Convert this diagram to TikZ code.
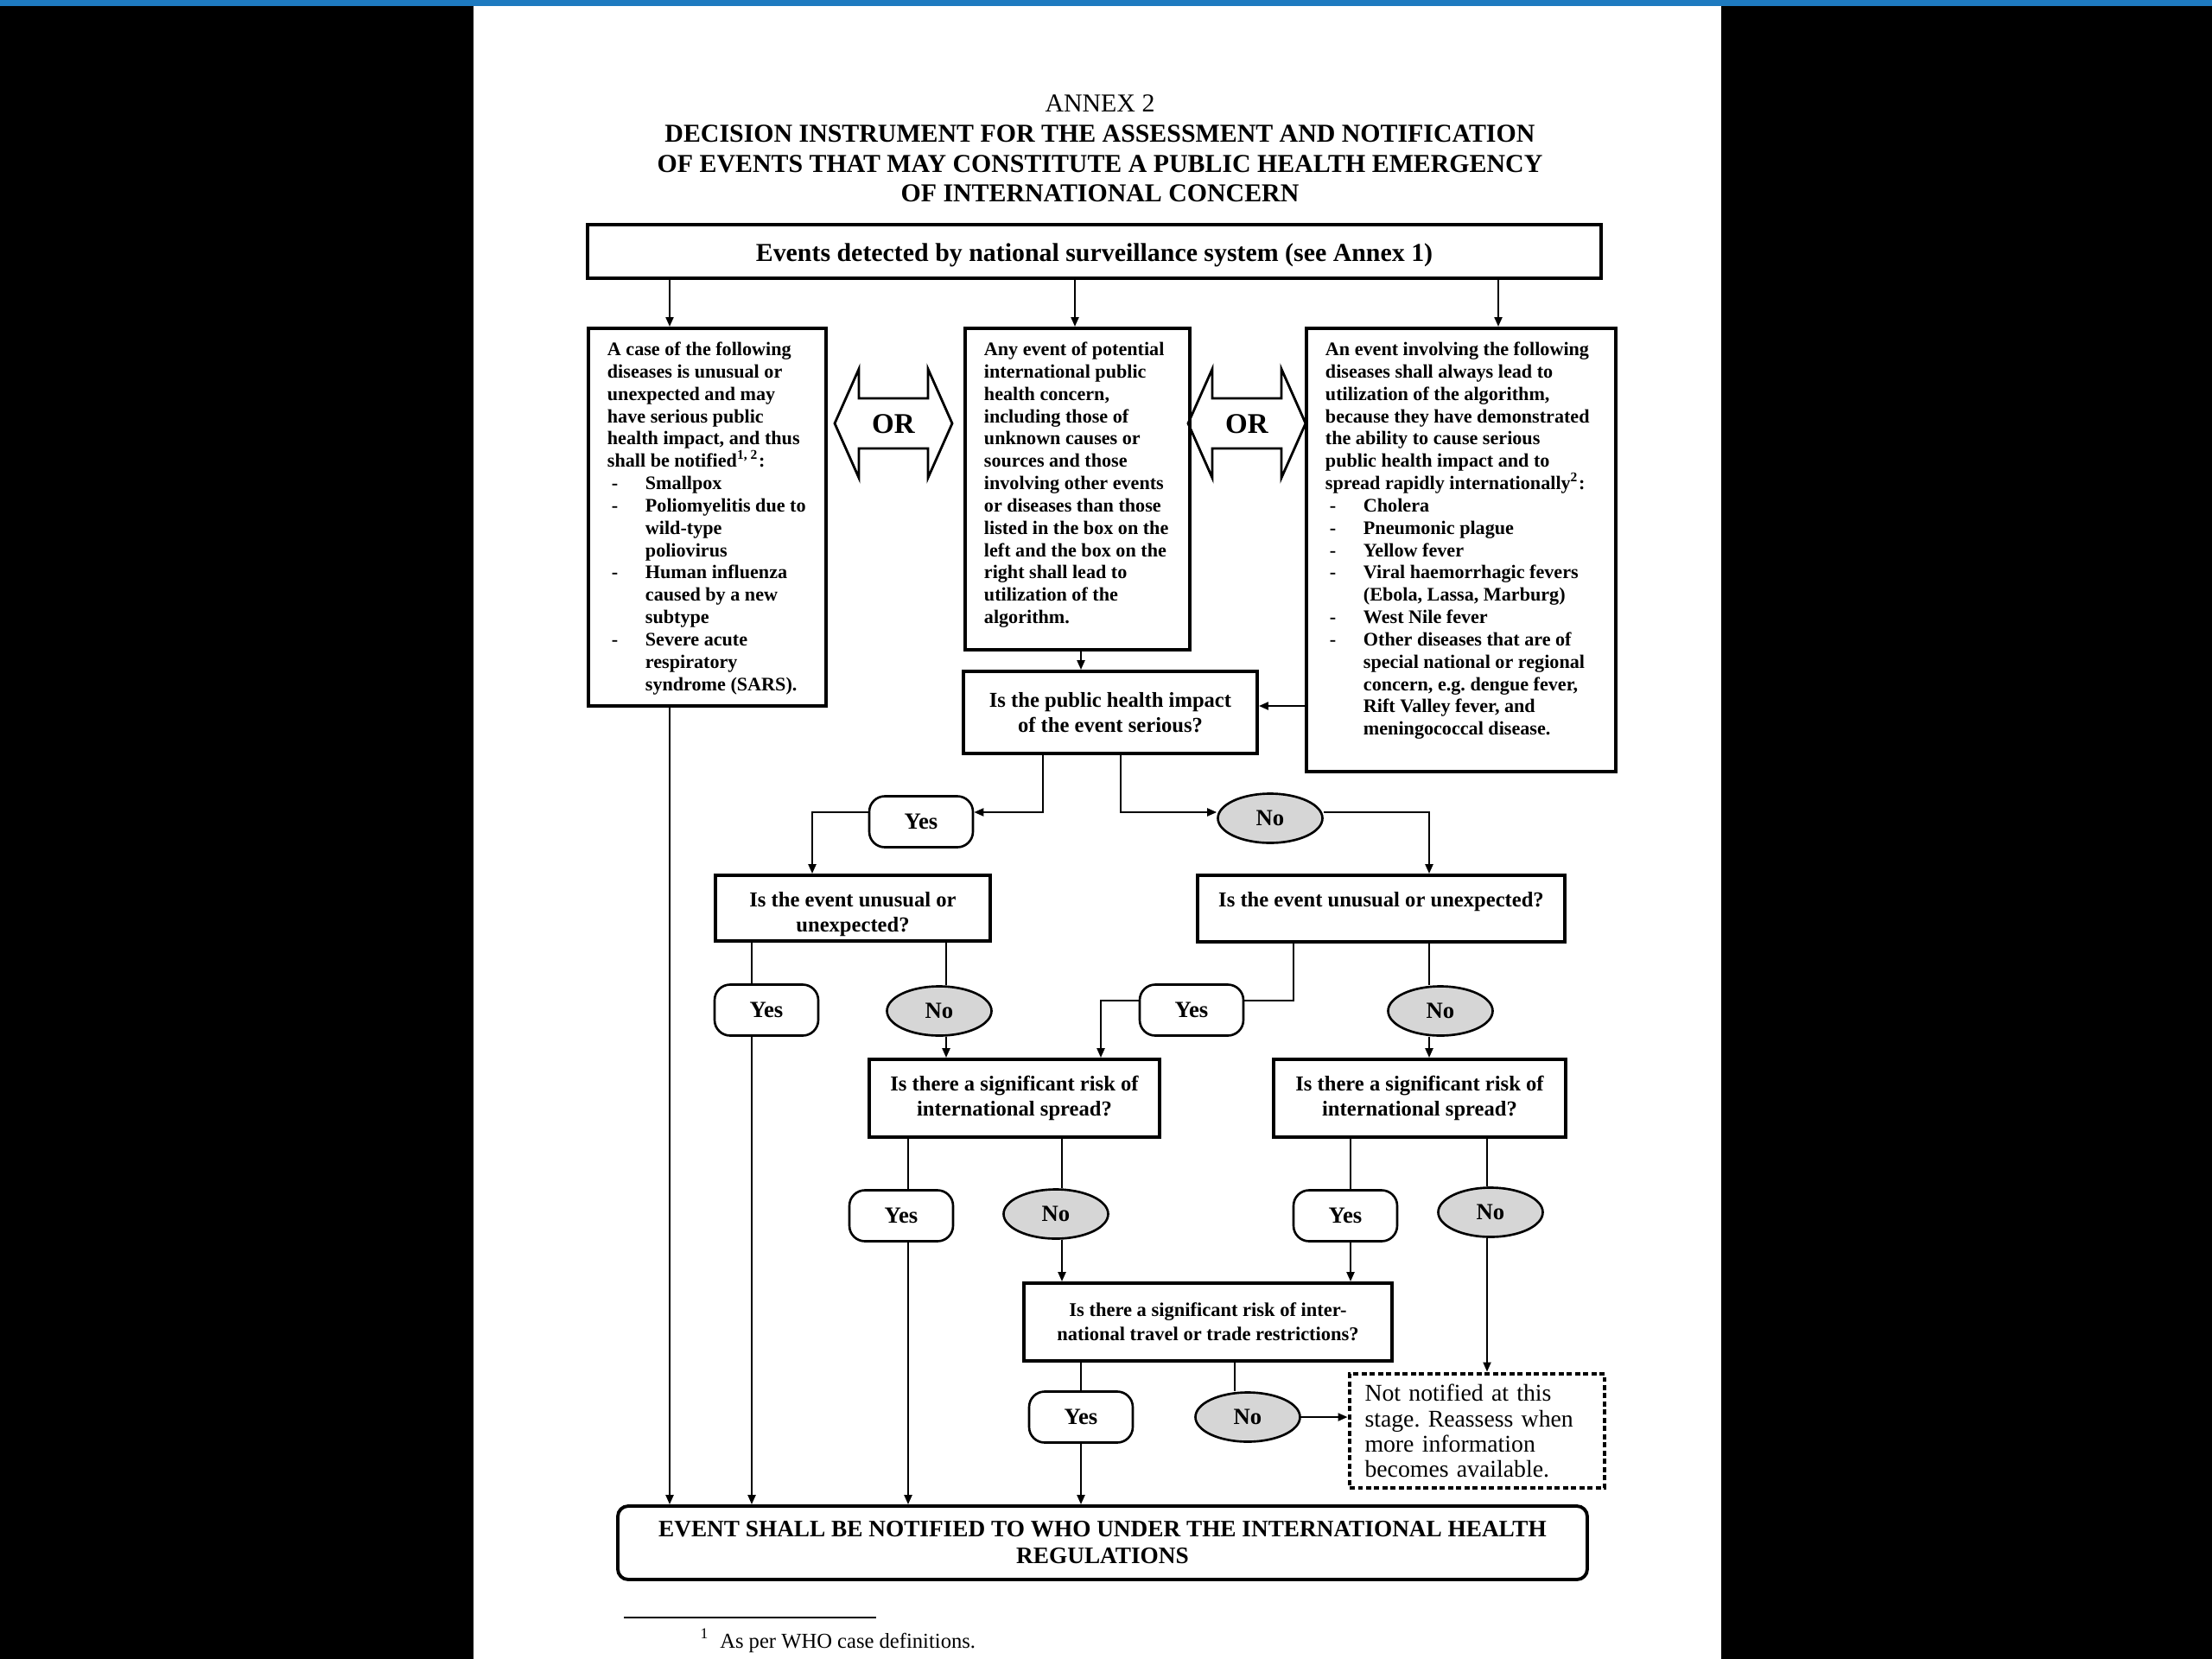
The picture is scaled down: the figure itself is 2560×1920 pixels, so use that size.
\documentclass[tikz,border=0pt]{standalone}
\usepackage{fontspec}
\setmainfont{Liberation Serif}
\usetikzlibrary{arrows.meta,shapes.geometric}

\definecolor{barblue}{RGB}{30,122,192}
\definecolor{nogray}{RGB}{214,214,214}

% list lines inside the three entry panels
\newcommand{\itemdash}{\hspace*{0.05cm}\makebox[0.39cm][l]{-}}
\newcommand{\itemgap}{\hspace*{0.44cm}}
\newcommand{\panellines}[3]{\parbox[c][#1][t]{#2}{\raggedright\leftskip=0.22cm #3}}
\frenchspacing

\begin{document}
\begin{tikzpicture}[x=0.1mm, y=-0.1mm,
  panel/.style={draw, line width=1.1pt, anchor=north west, inner xsep=0pt, inner ysep=0.16cm, font=\fontsize{6.3}{7.35}\selectfont\bfseries},
  askbox/.style={draw, line width=1.1pt, inner sep=0pt, align=center, font=\fontsize{7}{8.3}\selectfont\bfseries},
  yesbox/.style={draw, line width=0.75pt, rounded corners=1.8mm, minimum width=1.2cm, minimum height=0.59cm, inner sep=0pt, font=\fontsize{7.6}{9}\selectfont\bfseries},
  nobox/.style={draw, ellipse, fill=nogray, line width=0.75pt, minimum width=1.21cm, minimum height=0.57cm, inner sep=0pt, font=\fontsize{7.6}{9}\selectfont\bfseries},
  orlabel/.style={inner sep=0pt, font=\fontsize{9.4}{11}\selectfont\bfseries},
  waitbox/.style={draw, line width=1.4pt, dash pattern=on 1.7pt off 1pt, minimum width=2.95cm, minimum height=1.32cm, text width=2.6cm, inner xsep=0.175cm, align=left, font=\fontsize{7.9}{8.3}\selectfont},
  link/.style={line width=0.6pt},
  arr/.style={link, -{Triangle[length=1.1mm, width=0.9mm]}}]

  % page on a dark screen
  \useasboundingbox (0,0) rectangle (2560,1920);
  \fill[black] (0,0) rectangle (2560,1920);
  \fill[white] (548,6) rectangle (1992,1920);
  \fill[barblue] (0,0) rectangle (2560,7);

  \node[align=center, font=\fontsize{8.5}{9.9}\selectfont] (title) at (1273,172)
    {ANNEX 2\\ \textbf{DECISION INSTRUMENT FOR THE ASSESSMENT AND NOTIFICATION}\\
     \textbf{OF EVENTS THAT MAY CONSTITUTE A PUBLIC HEALTH EMERGENCY}\\ \textbf{OF INTERNATIONAL CONCERN}};

  \node[askbox, minimum width=11.73cm, minimum height=0.62cm, font=\fontsize{8.5}{10}\selectfont\bfseries] (events) at (1266.5,291)
    {\rule{0pt}{0.30cm}Events detected by national surveillance system (see Annex 1)};

  % the three entry panels
  \node[panel] (casebox) at (679,378) {\panellines{4.05cm}{2.75cm}{%
    A case of the following\\ diseases is unusual or\\ unexpected and may\\ have serious public\\
    health impact, and thus\\ shall be notified\textsuperscript{1, 2}:\\
    \itemdash Smallpox\\ \itemdash Poliomyelitis due to\\ \itemgap wild-type\\ \itemgap poliovirus\\
    \itemdash Human influenza\\ \itemgap caused by a new\\ \itemgap subtype\\
    \itemdash Severe acute\\ \itemgap respiratory\\ \itemgap syndrome (SARS).}};
  \node[panel] (anybox) at (1115,378) {\panellines{3.40cm}{2.60cm}{%
    Any event of potential\\ international public\\ health concern,\\ including those of\\
    unknown causes or\\ sources and those\\ involving other events\\ or diseases than those\\
    listed in the box on the\\ left and the box on the\\ right shall lead to\\ utilization of the\\ algorithm.}};
  \node[panel] (alwaysbox) at (1510,378) {\panellines{4.81cm}{3.58cm}{%
    An event involving the following\\ diseases shall always lead to\\ utilization of the algorithm,\\
    because they have demonstrated\\ the ability to cause serious\\ public health impact and to\\
    spread rapidly internationally\textsuperscript{2}:\\
    \itemdash Cholera\\ \itemdash Pneumonic plague\\ \itemdash Yellow fever\\
    \itemdash Viral haemorrhagic fevers\\ \itemgap (Ebola, Lassa, Marburg)\\ \itemdash West Nile fever\\
    \itemdash Other diseases that are of\\ \itemgap special national or regional\\
    \itemgap concern, e.g. dengue fever,\\ \itemgap Rift Valley fever, and\\ \itemgap meningococcal disease.}};

  % OR block arrows
  \foreach \ox in {966,1375}{
    \draw[line width=0.8pt] (\ox,490) -- ++(28,-63) -- ++(0,34) -- ++(80,0) -- ++(0,-34) -- ++(28,63)
      -- ++(-28,63) -- ++(0,-34) -- ++(-80,0) -- ++(0,34) -- cycle;}
  \node[orlabel] (or1) at (1034,491) {OR};
  \node[orlabel] (or2) at (1443,491) {OR};

  % questions
  \node[askbox, minimum width=3.40cm, minimum height=0.95cm] (impact) at (1285,824.5) {Is the public health impact\\ of the event serious?};
  \node[askbox, minimum width=3.18cm, minimum height=0.76cm] (unusualA) at (987,1051) {\rule{0pt}{0.31cm}Is the event unusual or\\ unexpected?};
  \node[askbox, minimum width=4.25cm, minimum height=0.77cm] (unusualB) at (1598.5,1051.5) {\rule[-0.21cm]{0pt}{0.1cm}Is the event unusual or unexpected?};
  \node[askbox, minimum width=3.36cm, minimum height=0.90cm] (spreadA) at (1174,1271) {Is there a significant risk of\\ international spread?};
  \node[askbox, minimum width=3.38cm, minimum height=0.90cm] (spreadB) at (1643,1271) {Is there a significant risk of\\ international spread?};
  \node[askbox, minimum width=4.26cm, minimum height=0.90cm, font=\fontsize{6.4}{7.9}\selectfont\bfseries] (restrict) at (1398,1530)
    {Is there a significant risk of inter-\\ national travel or trade restrictions?};

  % answers
  \node[yesbox] (yes1) at (1066,951) {Yes};
  \node[nobox] (no1) at (1470,947) {No};
  \node[yesbox] (yes2) at (887,1169) {Yes};
  \node[nobox] (no2) at (1087,1170) {No};
  \node[yesbox] (yes3) at (1379,1169) {Yes};
  \node[nobox] (no3) at (1667,1170) {No};
  \node[yesbox] (yes4) at (1043,1407) {Yes};
  \node[nobox] (no4) at (1222,1405) {No};
  \node[yesbox] (yes5) at (1557,1407) {Yes};
  \node[nobox] (no5) at (1725,1403) {No};
  \node[yesbox] (yes6) at (1251,1640) {Yes};
  \node[nobox] (no6) at (1444,1640) {No};

  \node[waitbox] (wait) at (1709.5,1656) {Not notified at this\\ stage. Reassess when\\ more information\\ becomes available.};
  \node[draw, line width=1.1pt, rounded corners=1.2mm, minimum width=11.22cm, minimum height=0.85cm, inner sep=0pt, align=center,
        font=\fontsize{7.76}{8.8}\selectfont\bfseries] (notify) at (1276,1785.5)
    {EVENT SHALL BE NOTIFIED TO WHO UNDER THE INTERNATIONAL HEALTH\\ REGULATIONS};

  % connectors
  \draw[arr] (events.south -| 775,0) -- (casebox.north -| 775,0);
  \draw[arr] (events.south -| 1244,0) -- (anybox.north -| 1244,0);
  \draw[arr] (events.south -| 1734,0) -- (alwaysbox.north -| 1734,0);
  \draw[arr] (anybox.south -| 1251,0) -- (impact.north -| 1251,0);
  \draw[arr] (alwaysbox.west |- 0,817) -- (impact.east |- 0,817);
  \draw[arr] (casebox.south -| 775,0) -- (notify.north -| 775,0);

  \draw[arr] (impact.south -| 1207,0) |- (yes1.east |- 0,940);
  \draw[arr] (yes1.west |- 0,940) -| (unusualA.north -| 940,0);
  \draw[arr] (impact.south -| 1297,0) |- (no1.west |- 0,940);
  \draw[arr] (no1.east |- 0,940) -| (unusualB.north -| 1654,0);

  \draw[link] (unusualA.south -| 870,0) -- (yes2.north -| 870,0);
  \draw[arr] (yes2.south -| 870,0) -- (notify.north -| 870,0);
  \draw[link] (unusualA.south -| 1095,0) -- (no2.north -| 1095,0);
  \draw[arr] (no2.south -| 1095,0) -- (spreadA.north -| 1095,0);
  \draw[link] (unusualB.south -| 1497,0) |- (yes3.east |- 0,1158);
  \draw[arr] (yes3.west |- 0,1158) -| (spreadA.north -| 1274,0);
  \draw[link] (unusualB.south -| 1654,0) -- (no3.north -| 1654,0);
  \draw[arr] (no3.south -| 1654,0) -- (spreadB.north -| 1654,0);

  \draw[link] (spreadA.south -| 1051,0) -- (yes4.north -| 1051,0);
  \draw[arr] (yes4.south -| 1051,0) -- (notify.north -| 1051,0);
  \draw[link] (spreadA.south -| 1229,0) -- (no4.north -| 1229,0);
  \draw[arr] (no4.south -| 1229,0) -- (restrict.north -| 1229,0);
  \draw[link] (spreadB.south -| 1563,0) -- (yes5.north -| 1563,0);
  \draw[arr] (yes5.south -| 1563,0) -- (restrict.north -| 1563,0);
  \draw[link] (spreadB.south -| 1721,0) -- (no5.north -| 1721,0);
  \draw[arr] (no5.south -| 1721,0) -- (wait.north -| 1721,0);

  \draw[link] (restrict.south -| 1251,0) -- (yes6.north);
  \draw[arr] (yes6.south) -- (notify.north -| yes6.south);
  \draw[link] (restrict.south -| 1429,0) -- (no6.north -| 1429,0);
  \draw[arr] (no6.east) -- (wait.west |- no6.east);

  % footnote
  \draw[line width=0.6pt] (722,1872) -- (1014,1872);
  \node[anchor=base west, inner sep=0pt, font=\fontsize{7}{8}\selectfont] (note1) at (810,1907)
    {\textsuperscript{1}\hspace{0.12cm}As per WHO case definitions.};
\end{tikzpicture}
\end{document}
